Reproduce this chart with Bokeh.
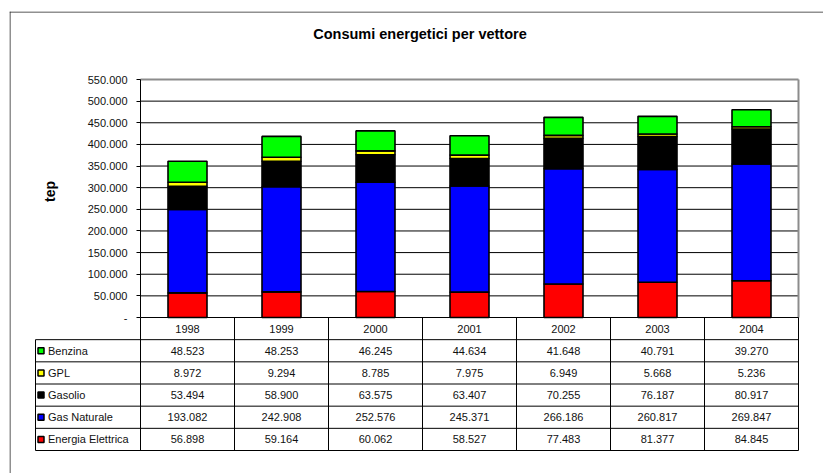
import math
from bokeh.plotting import figure
from bokeh.models import (Range1d, LinearAxis, FixedTicker, CustomJSTickFormatter,
                          ColumnDataSource)
from bokeh.core.properties import value
from bokeh.embed import file_html
from bokeh.resources import INLINE

# ---------------- data ----------------
years = ["1998", "1999", "2000", "2001", "2002", "2003", "2004"]
benzina = [48523, 48253, 46245, 44634, 41648, 40791, 39270]
gpl = [8972, 9294, 8785, 7975, 6949, 5668, 5236]
gasolio = [53494, 58900, 63575, 63407, 70255, 76187, 80917]
gas_naturale = [193082, 242908, 252576, 245371, 266186, 260817, 269847]
energia_elettrica = [56898, 59164, 60062, 58527, 77483, 81377, 84845]

# table order (top -> bottom)
series_names = ["Benzina", "GPL", "Gasolio", "Gas Naturale", "Energia Elettrica"]
series_values = [benzina, gpl, gasolio, gas_naturale, energia_elettrica]
series_colors = ["#00FF00", "#FFFF00", "#000000", "#0000FF", "#FF0000"]

y_ticks = [0, 50000, 100000, 150000, 200000, 250000, 300000,
           350000, 400000, 450000, 500000, 550000]
title_text = "Consumi energetici per vettore"
y_label = "tep"

# ---------------- layout (pixels) ----------------
W, H = 823, 473
FL, FT = 9, 11            # frame (outer border) left / top
AX_X, COL_W = 140, 94     # y-axis position, table column width
Y_BASE, Y_TOP = 317, 79   # pixel of 0 and of max tick
TABLE_BOTTOM = 450
LABEL_LEFT = 35
FONT = "Liberation Sans"

n = len(years)
Y_MAX = y_ticks[-1]
upp = Y_MAX / (Y_BASE - Y_TOP)
n_rows = len(series_names) + 1
row_h = (TABLE_BOTTOM - Y_BASE) / n_rows


def px_x(px):
    return (px - AX_X) / COL_W


def px_y(py):
    return (Y_BASE - py) * upp


p = figure(width=W, height=H,
           x_range=Range1d(px_x(FL), px_x(W)),
           y_range=Range1d(px_y(H), px_y(FT)),
           output_backend="svg", toolbar_location=None,
           x_axis_location=None, y_axis_location=None,
           min_border=0, min_border_left=FL, min_border_top=FT,
           min_border_right=0, min_border_bottom=0,
           background_fill_color="white", border_fill_color="white")
p.outline_line_color = None
p.title.visible = False
p.xgrid.visible = False
p.ygrid.visible = False
p.extra_y_ranges = {"tbl": Range1d(-(H - Y_BASE) / row_h, (Y_BASE - FT) / row_h),
                    "page": Range1d(H, FT)}
p.extra_x_ranges = {"page": Range1d(FL, W)}

# ---------------- gridlines ----------------
grid_vals = [t for t in y_ticks if 0 < t < Y_MAX]
p.segment(x0=[0] * len(grid_vals), x1=[n] * len(grid_vals), y0=grid_vals, y1=grid_vals,
          line_color="#000000", line_width=1)
# plot-area border (top and right), gray
p.segment(x0=[0, n], x1=[n, n], y0=[Y_MAX, 0], y1=[Y_MAX, Y_MAX],
          line_color="#8C8C8C", line_width=2)

# ---------------- stacked bars ----------------
src = ColumnDataSource(dict(
    x=[i + 0.5 for i in range(n)],
    energia=energia_elettrica, gas=gas_naturale, gasolio=gasolio,
    gpl=gpl, benzina=benzina))
p.vbar_stack(["energia", "gas", "gasolio", "gpl", "benzina"], x="x",
             width=39 / COL_W,
             fill_color=["#FF0000", "#0000FF", "#000000", "#FFFF00", "#00FF00"],
             line_color="black", line_width=1.6, source=src)

# ---------------- y axis ----------------
yaxis = LinearAxis(fixed_location=0, bounds=(0, Y_MAX),
                   ticker=FixedTicker(ticks=y_ticks, minor_ticks=[]),
                   formatter=CustomJSTickFormatter(code="""
                       if (tick == 0) { return "-"; }
                       return Math.round(tick).toString().replace(/\\B(?=(\\d{3})+(?!\\d))/g, ".");
                   """))
yaxis.axis_line_color = "black"
yaxis.axis_line_width = 1
yaxis.major_tick_out = 4
yaxis.major_tick_in = 0
yaxis.minor_tick_out = 0
yaxis.minor_tick_in = 0
yaxis.major_tick_line_color = "black"
yaxis.major_label_standoff = 9
yaxis.major_label_text_font = FONT
yaxis.major_label_text_font_size = "11px"
yaxis.major_label_text_color = "#111111"
p.add_layout(yaxis, "left")

# ---------------- data table ----------------
lx = px_x(LABEL_LEFT)
hx0 = [0] + [lx] * (n_rows)
hx1 = [n] * (n_rows + 1)
hy = [0] + [-(k + 1) for k in range(n_rows)]
p.segment(x0=hx0, x1=hx1, y0=hy, y1=hy, y_range_name="tbl",
          line_color="#000000", line_width=1)
vx = list(range(n + 1)) + [lx]
vy0 = [0] * (n + 1) + [-1]
vy1 = [-n_rows] * (n + 2)
p.segment(x0=vx, x1=vx, y0=vy0, y1=vy1, y_range_name="tbl",
          line_color="#000000", line_width=1)

p.text(x=[i + 0.5 for i in range(n)], y=[-0.5] * n, text=years, y_range_name="tbl",
       text_align="center", text_baseline="middle",
       text_font=value(FONT), text_font_size="11px", text_color="#111111")

vx_, vy_, vt_ = [], [], []
for r, vals in enumerate(series_values):
    for i, v in enumerate(vals):
        vx_.append(i + 0.5)
        vy_.append(-(r + 1.5))
        vt_.append(f"{v:,}".replace(",", "."))
p.text(x=vx_, y=vy_, text=vt_, y_range_name="tbl",
       text_align="center", text_baseline="middle",
       text_font=value(FONT), text_font_size="11px", text_color="#111111")

ry = [-(r + 1.5) for r in range(len(series_names))]
p.rect(x=[px_x(40.5)] * len(series_names), y=ry, width=6, height=6,
       width_units="screen", height_units="screen", y_range_name="tbl",
       fill_color=series_colors, line_color="black", line_width=1.5)
p.text(x=[px_x(47.5)] * len(series_names), y=ry, text=series_names, y_range_name="tbl",
       text_align="left", text_baseline="middle",
       text_font=value(FONT), text_font_size="11px", text_color="#111111")

# ---------------- title, axis title ----------------
p.text(x=[419.5], y=[33], text=[title_text], x_range_name="page", y_range_name="page",
       text_align="center", text_baseline="middle", text_font=value(FONT),
       text_font_size="14.5px", text_font_style="bold", text_color="#000000")
p.text(x=[49], y=[191], text=[y_label], x_range_name="page", y_range_name="page",
       angle=math.pi / 2, text_align="center", text_baseline="middle",
       text_font=value(FONT), text_font_size="14px", text_font_style="bold",
       text_color="#000000")

# ---------------- outer border (left + top) as filled 1px strips ----------------
p.quad(left=[px_x(FL), px_x(FL)], right=[px_x(FL + 1), px_x(W)],
       bottom=[px_y(H), px_y(FT + 1)], top=[px_y(FT), px_y(FT)],
       fill_color="#222222", line_color=None)

open("out.html", "w").write(file_html(p, INLINE))
